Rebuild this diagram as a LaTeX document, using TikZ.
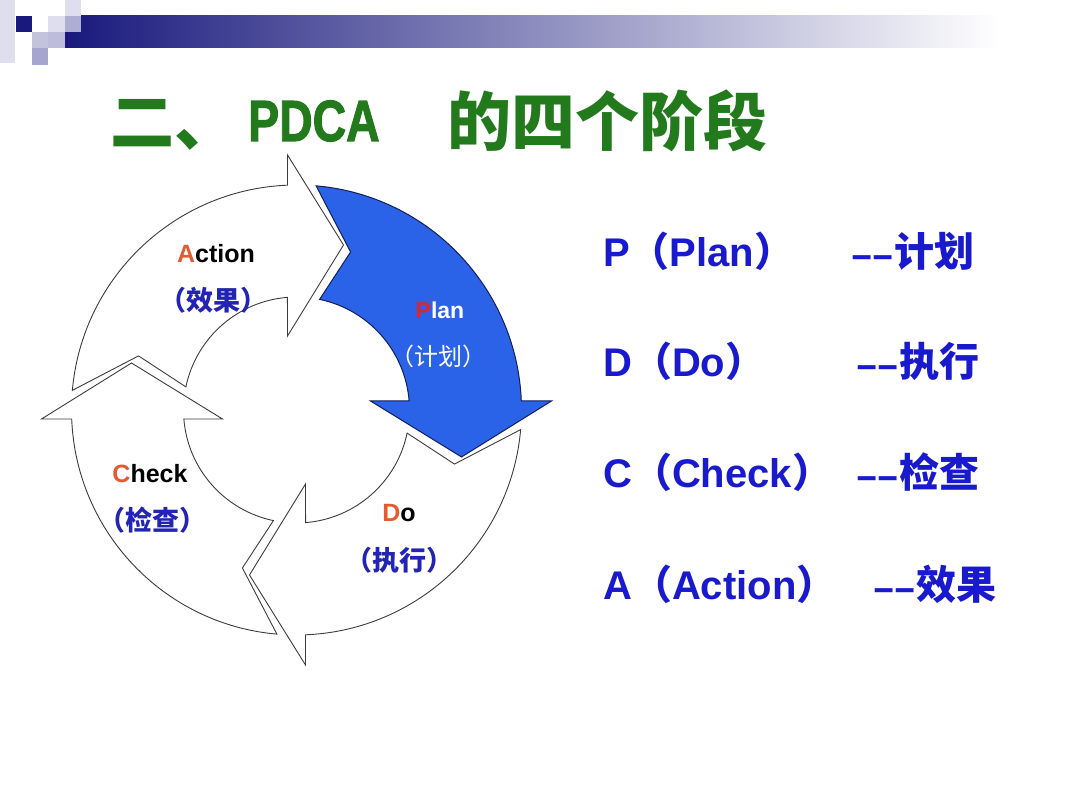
\documentclass[tikz,border=0pt]{standalone}
\usepackage{fontspec}
\usepackage{graphicx}
\setmainfont{Liberation Sans}
\newfontfamily\cjk{Noto Sans CJK SC}
\newfontfamily\pdcafont{Liberation Sans}[FakeBold=2]
\definecolor{titlegreen}{RGB}{35,122,28}
\definecolor{textblue}{RGB}{25,25,205}
\definecolor{labblue}{RGB}{35,35,180}
\definecolor{planblue}{RGB}{42,98,232}
\definecolor{planline}{RGB}{20,30,90}
\definecolor{ringline}{RGB}{60,60,60}
\definecolor{letterorange}{RGB}{228,90,50}
\definecolor{planred}{RGB}{215,40,50}
\definecolor{navy}{RGB}{25,25,125}
\definecolor{lavA}{RGB}{222,222,238}
\definecolor{lavB}{RGB}{195,195,222}
\definecolor{lavC}{RGB}{165,165,208}
\newcommand\pdcapath{(255,9) -- (165,-47) -- (74,9) -- (4.6:113) arc[start angle=4.6,end angle=78.2,radius=113pt] -- (71.1:167) -- (85:225) arc[start angle=85,end angle=2.3,radius=225pt] -- cycle}
\newcommand\dashpair{\scalebox{1.75}[0.85]{-}\kern-2.5pt\scalebox{1.75}[0.85]{-}}
\tikzset{
  ringarrow/.style={draw=ringline, line width=0.9pt, fill=white, line join=miter},
  planarrow/.style={draw=planline, line width=1pt, fill=planblue, line join=miter},
  lab/.style={font=\fontsize{25}{27}\selectfont\bfseries, inner sep=0pt},
  labcn/.style={font=\cjk\fontsize{27}{29}\selectfont\bfseries, text=labblue, inner sep=0pt},
  rtxt/.style={font=\fontsize{40}{44}\selectfont\bfseries, text=textblue, anchor=base west, inner sep=0pt},
  rcn/.style={font=\cjk\fontsize{40}{44}\selectfont\bfseries, text=textblue, anchor=base west, inner sep=0pt},
  ttl/.style={font=\cjk\fontsize{64}{70}\selectfont\bfseries, text=titlegreen, anchor=base west, inner sep=0pt},
}
\begin{document}
\begin{tikzpicture}[x=1pt,y=1pt]
\useasboundingbox (0,0) rectangle (1080,810);
\fill[white] (0,0) rectangle (1080,810);
% header decoration
\shade[left color=navy, right color=white] (65,794) rectangle (1000,762);
\fill[lavA] (0,747) rectangle (15,810);
\fill[navy] (16,794) rectangle (32,778);
\fill[lavB] (32,778) rectangle (48,762);
\fill[lavC] (32,762) rectangle (48,745);
\fill[lavA] (48,794) rectangle (65,778);
\fill[lavB!80!lavC] (48,778) rectangle (65,762);
\fill[lavA] (65,810) rectangle (81,794);
\fill[lavC!70!lavB] (65,794) rectangle (81,778);
% title
\node[ttl] (t1) at (110,664) {二、};
\node[ttl, font=\pdcafont\fontsize{58}{62}\selectfont\bfseries] (t2) at (248,669) {\scalebox{0.8}[1]{PDCA}};
\node[ttl] (t3) at (447,664) {的四个阶段};
% cycle
\begin{scope}[shift={(296.5,400)}]
  \path[ringarrow, rotate=90] \pdcapath;
  \path[ringarrow, rotate=180] \pdcapath;
  \path[ringarrow, rotate=270] \pdcapath;
  \path[planarrow] \pdcapath;
\end{scope}
\node[lab] (la) at (216,556) {\textcolor{letterorange}{A}ction};
\node[labcn] (lac) at (213,509.5) {（效果）};
\node[lab, font=\fontsize{23}{25}\selectfont\bfseries] (lp) at (440,500) {\textcolor{planred}{P}\textcolor{white}{lan}};
\node[labcn, text=white, font=\cjk\fontsize{24}{26}\selectfont] (lpc) at (438,454) {（计划）};
\node[lab] (lc) at (150,336.5) {\textcolor{letterorange}{C}heck};
\node[labcn] (lcc) at (152,290) {（检查）};
\node[lab] (ld) at (399,297) {\textcolor{letterorange}{D}o};
\node[labcn] (ldc) at (399,250) {（执行）};
% right column
\node[rtxt] (r1) at (603,543) {P{\cjk （}Plan{\cjk ）}};
\node[rcn] (r1b) at (850,543) {{\fontspec{Liberation Sans}\bfseries\dashpair}计划};
\node[rtxt] (r2) at (603,433) {D{\cjk （}Do{\cjk ）}};
\node[rcn] (r2b) at (855,433) {{\fontspec{Liberation Sans}\bfseries\dashpair}执行};
\node[rtxt] (r3) at (603,322) {C{\cjk （}Check{\cjk ）}};
\node[rcn] (r3b) at (855,322) {{\fontspec{Liberation Sans}\bfseries\dashpair}检查};
\node[rtxt] (r4) at (603,210) {A{\cjk （}Action{\cjk ）}};
\node[rcn] (r4b) at (872,210) {{\fontspec{Liberation Sans}\bfseries\dashpair}效果};
\end{tikzpicture}
\end{document}
